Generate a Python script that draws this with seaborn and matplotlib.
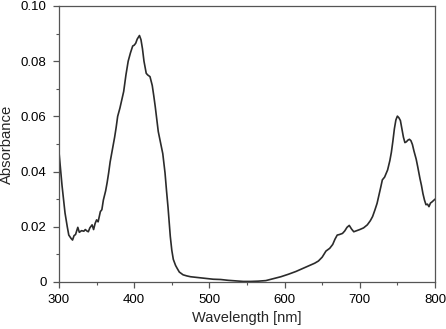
import numpy as np
import matplotlib
matplotlib.use("Agg")
import matplotlib.pyplot as plt
from matplotlib.ticker import MultipleLocator
import seaborn as sns

# absorbance spectrum, values
wavelength = [300, 302, 304, 306, 308, 311, 313, 316, 318, 320, 322, 325, 327, 330, 333,
              335, 337, 339, 341, 344, 346, 348, 350, 352, 355, 357, 359, 362, 364, 366,
              368, 371, 374, 376, 378, 381, 384, 386, 389, 392, 395, 398, 400, 402, 404,
              407, 409, 411, 413, 416, 418, 421, 424, 426, 428, 430, 432, 435, 438, 441,
              443, 445, 448, 450, 452, 455, 457, 460, 465, 470, 475, 485, 495, 505, 515,
              525, 535, 545, 555, 565, 575, 585, 595, 605, 615, 625, 635, 640, 645, 650,
              655, 660, 664, 667, 670, 673, 677, 680, 683, 686, 689, 692, 696, 700, 705,
              710, 714, 717, 720, 723, 726, 728, 730, 733, 737, 740, 742, 744, 746, 748,
              750, 752, 754, 756, 758, 760, 762, 764, 766, 768, 770, 772, 775, 777, 780,
              782, 784, 786, 788, 790, 792, 794, 796, 798, 800]
absorbance = [0.047, 0.041, 0.035, 0.030, 0.025, 0.020, 0.017, 0.0158, 0.0152, 0.0168,
              0.0172, 0.0198, 0.0180, 0.0186, 0.0184, 0.0190, 0.0185, 0.0182, 0.0196, 0.0207,
              0.0190, 0.0212, 0.0225, 0.0218, 0.0255, 0.0262, 0.0297, 0.0330, 0.0360, 0.0395,
              0.0435, 0.0480, 0.0525, 0.0560, 0.0600, 0.0630, 0.0665, 0.0690, 0.0750, 0.0800,
              0.0830, 0.0855, 0.0858, 0.0865, 0.0880, 0.0893, 0.0878, 0.0845, 0.0800, 0.0756,
              0.0750, 0.0744, 0.0712, 0.0675, 0.0635, 0.0590, 0.0545, 0.0505, 0.0465, 0.0395,
              0.0330, 0.0270, 0.0165, 0.0115, 0.0082, 0.0060, 0.0050, 0.0036, 0.0026, 0.0022,
              0.0019, 0.0016, 0.0013, 0.0010, 0.0009, 0.0006, 0.0004, 0.0002, 0.0002, 0.0003,
              0.0005, 0.0012, 0.0019, 0.0028, 0.0038, 0.0050, 0.0062, 0.0068, 0.0076, 0.0090,
              0.0112, 0.0122, 0.0136, 0.0155, 0.0170, 0.0172, 0.0176, 0.0185, 0.0198, 0.0205,
              0.0192, 0.0182, 0.0186, 0.0190, 0.0196, 0.0207, 0.0222, 0.0237, 0.0260, 0.0285,
              0.0320, 0.0345, 0.0370, 0.0380, 0.0406, 0.0440, 0.0470, 0.0510, 0.0555, 0.0587,
              0.0601, 0.0595, 0.0585, 0.0555, 0.0525, 0.0505, 0.0508, 0.0514, 0.0517, 0.0512,
              0.0498, 0.0475, 0.0445, 0.0418, 0.0375, 0.0350, 0.0320, 0.0297, 0.0280, 0.0282,
              0.0273, 0.0286, 0.0290, 0.0295, 0.0300]
assert len(wavelength) == len(absorbance)

x_ticks = [300, 400, 500, 600, 700, 800]
y_ticks = [0, 0.02, 0.04, 0.06, 0.08, 0.10]
y_tick_labels = ["0", "0.02", "0.04", "0.06", "0.08", "0.10"]

sns.set_style("ticks")
plt.rcParams['font.family'] = ['Liberation Sans', 'DejaVu Sans']

fig = plt.figure(figsize=(4.46, 3.29), dpi=100)
ax = fig.add_axes([0.1323, 0.1429, 0.8430, 0.8389])

sns.lineplot(x=wavelength, y=absorbance, ax=ax, color="#2b2b2b", linewidth=1.2)

ax.set_xlim(300, 800)
ax.set_ylim(0, 0.10)
ax.set_xticks(x_ticks)
ax.set_yticks(y_ticks)
ax.set_yticklabels(y_tick_labels)
ax.xaxis.set_minor_locator(MultipleLocator(50))
ax.yaxis.set_minor_locator(MultipleLocator(0.01))
ax.tick_params(which="major", direction="out", length=4, width=0.9,
               color="#555555", labelsize=9.5, labelcolor="black")
ax.tick_params(axis="x", which="major", pad=5)
ax.tick_params(axis="y", which="major", pad=5)
ax.tick_params(which="minor", direction="out", length=2.5, width=0.8, color="#555555")

for side in ["top", "right", "left", "bottom"]:
    ax.spines[side].set_visible(True)
    ax.spines[side].set_color("#555555")
    ax.spines[side].set_linewidth(0.9)

ax.set_xlabel("Wavelength [nm]", fontsize=10.5, labelpad=3.5)
ax.set_ylabel("Absorbance", fontsize=10.7, labelpad=5)

fig.savefig("out.png", dpi=100)
